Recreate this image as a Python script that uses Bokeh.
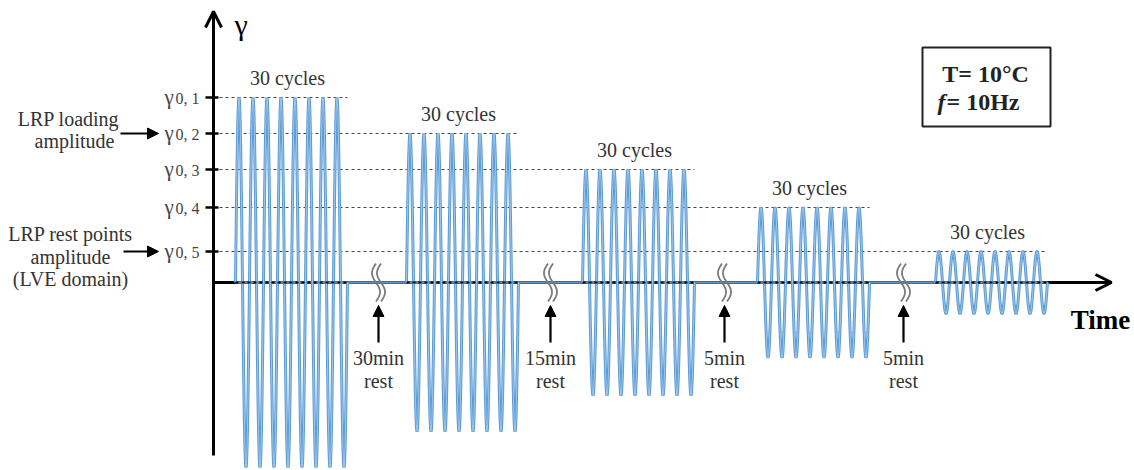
import numpy as np
from bokeh.plotting import figure
from bokeh.models import Range1d, Arrow, OpenHead, NormalHead
from bokeh.core.properties import value
from bokeh.embed import file_html
from bokeh.resources import INLINE

# ---- data (time in px-like units, gamma in display units) ----
amplitudes = [185, 149, 113, 75, 31]           # gamma_0,1 ... gamma_0,5
block_starts = [235, 406, 582, 757, 935]       # start time of each loading block
period = 14                                    # drawn period of a cycle
cycles_drawn = 8
block_labels = ["30 cycles"] * 5
level_subs = ["0, 1", "0, 2", "0, 3", "0, 4", "0, 5"]
rest_times = [378, 550, 724, 903]
rest_labels = ["30min", "15min", "5min", "5min"]

SERIF = value("Liberation Serif")
BLUE = "#5b9bd5"
TXT = "#333333"

# axis geometry
X_AXIS0, X_AXIS1 = 213, 1111
Y_AXIS_BOTTOM, Y_AXIS_TOP = -173, 271

p = figure(width=1134, height=470, x_range=Range1d(0, 1134), y_range=Range1d(-188, 282),
           output_backend="svg", toolbar_location=None, min_border=0)
p.min_border_left = p.min_border_right = p.min_border_top = p.min_border_bottom = 0
p.axis.visible = False
p.grid.visible = False
p.outline_line_color = None
p.background_fill_color = "white"

block_ends = [s + cycles_drawn * period for s in block_starts]

# dashed reference lines for each amplitude level
p.multi_line(xs=[[X_AXIS0, e] for e in block_ends], ys=[[a, a] for a in amplitudes],
             line_color="#444444", line_dash="3 3", line_width=1.1)

# y-axis ticks
p.multi_line(xs=[[X_AXIS0 - 8, X_AXIS0 + 5] for _ in amplitudes], ys=[[a, a] for a in amplitudes],
             line_color="black", line_width=2.5)

# axes with arrows (time axis drawn underneath the signal)
p.add_layout(Arrow(end=OpenHead(size=16, line_width=3, line_color="black"),
                   x_start=X_AXIS0, y_start=Y_AXIS_BOTTOM, x_end=X_AXIS0, y_end=Y_AXIS_TOP,
                   line_width=3, line_color="black"))
p.add_layout(Arrow(end=OpenHead(size=16, line_width=3, line_color="black"),
                   x_start=X_AXIS0, y_start=0, x_end=X_AXIS1, y_end=0,
                   line_width=3, line_color="black", level="underlay"))

# rest-state signal line
p.line([block_starts[0], block_ends[-1]], [0, 0], line_color="#6690bb", line_width=2.6)

# sinusoidal loading blocks
xs, ys = [], []
for s, a in zip(block_starts, amplitudes):
    t = np.linspace(0, cycles_drawn * period, cycles_drawn * 60 + 1)
    xs.append(list(s + t))
    ys.append(list(a * np.sin(2 * np.pi * t / period)))
p.multi_line(xs=xs, ys=ys, line_color=BLUE, line_width=3)
p.multi_line(xs=xs, ys=ys, line_color="#a7cbec", line_width=0.9)

# dashed baseline inside blocks
p.multi_line(xs=[[s, e] for s, e in zip(block_starts, block_ends)], ys=[[0, 0] for _ in block_starts],
             line_color="black", line_dash="3 3", line_width=2)

# break symbols
bx, by = [], []
u = np.linspace(-1, 1, 40)
for r in rest_times:
    for off in (-2.5, 2.5):
        bx.append(list(r + off - 4 * np.sin(np.pi * u)))
        by.append(list(19 * u))
p.multi_line(xs=bx, ys=by, line_color="#7a7a7a", line_width=1.8)

# rest arrows and labels
for r in rest_times:
    p.add_layout(Arrow(end=NormalHead(size=11, fill_color="black", line_color="black"),
                       x_start=r, y_start=-60, x_end=r, y_end=-23, line_width=2.2, line_color="black"))
p.text(x=rest_times, y=[-75] * 4, text=rest_labels, text_font=SERIF, text_font_size="20px",
       text_align="center", text_baseline="middle", text_color=TXT)
p.text(x=rest_times, y=[-98] * 4, text=["rest"] * 4, text_font=SERIF, text_font_size="20px",
       text_align="center", text_baseline="middle", text_color=TXT)

# "30 cycles" labels
centers = [s + cycles_drawn * period / 2 - 4 for s in block_starts]
p.text(x=centers, y=[a + 20 for a in amplitudes], text=block_labels, text_font=SERIF,
       text_font_size="20px", text_align="center", text_baseline="middle", text_color=TXT)

# level labels gamma_0,i
p.text(x=[164] * 5, y=[a + 1 for a in amplitudes], text=["γ"] * 5, text_font=SERIF, text_font_size="21px",
       text_align="left", text_baseline="middle", text_color="#444444")
p.text(x=[175] * 5, y=[a - 1 for a in amplitudes], text=level_subs, text_font=SERIF,
       text_font_size="16px", text_align="left", text_baseline="middle", text_color="#444444")

# axis labels
p.text(x=[234], y=[258], text=["γ"], text_font=SERIF, text_font_size="30px",
       text_align="left", text_baseline="middle", text_color="black")
p.text(x=[1100], y=[-37], text=["Time"], text_font=SERIF, text_font_size="27px", text_font_style="bold",
       text_align="center", text_baseline="middle", text_color="black")

# left annotations
p.text(x=[68, 74], y=[164, 142], text=["LRP loading", "amplitude"], text_font=SERIF,
       text_font_size="20px", text_align="center", text_baseline="middle", text_color=TXT)
p.text(x=[70, 70, 70], y=[49, 26, 4], text=["LRP rest points", "amplitude", "(LVE domain)"],
       text_font=SERIF, text_font_size="20px", text_align="center", text_baseline="middle",
       text_color=TXT)
for a, x0 in ((amplitudes[1], 120), (amplitudes[4], 123)):
    p.add_layout(Arrow(end=NormalHead(size=11, fill_color="black", line_color="black"),
                       x_start=x0, y_start=a, x_end=158, y_end=a, line_width=2.2, line_color="black"))

# conditions box
p.quad(left=[922], right=[1050], bottom=[156], top=[235], fill_color=None,
       line_color="#222222", line_width=2)
p.text(x=[985], y=[209], text=["T= 10°C"], text_font=SERIF, text_font_size="24px",
       text_font_style="bold", text_align="center", text_baseline="middle", text_color="#222222")
p.text(x=[945], y=[181], text=["f"], text_font=SERIF, text_font_size="24px",
       text_font_style="bold italic", text_align="right", text_baseline="middle", text_color="#222222")
p.text(x=[946], y=[181], text=["= 10Hz"], text_font=SERIF, text_font_size="24px",
       text_font_style="bold", text_align="left", text_baseline="middle", text_color="#222222")

open("out.html", "w").write(file_html(p, INLINE))
